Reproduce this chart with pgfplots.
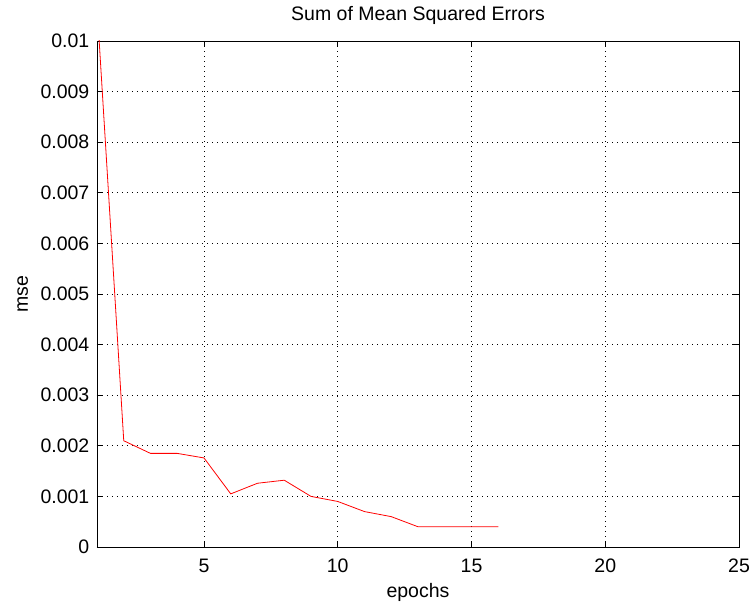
\documentclass[border=0pt]{standalone}
\usepackage{fontspec}
\setmainfont{Liberation Sans}
\usepackage{pgfplots}
\pgfplotsset{compat=1.18}
\begin{document}
\begin{tikzpicture}
\path[use as bounding box] (-97bp,-57bp) rectangle (655bp,547bp);
\begin{axis}[
  at={(0,0)}, anchor=south west,
  scale only axis, width=642bp, height=506bp,
  xmin=1, xmax=25, ymin=0, ymax=0.01,
  xtick={5,10,15,20,25},
  xticklabels={5,10,15,20,25},
  ytick={0,0.001,0.002,0.003,0.004,0.005,0.006,0.007,0.008,0.009,0.01},
  yticklabels={0,0.001,0.002,0.003,0.004,0.005,0.006,0.007,0.008,0.009,0.01},
  scaled y ticks=false,
  /pgf/number format/assume math mode=true,
  font=\fontsize{19.5bp}{23bp}\selectfont,
  ticklabel style={font=\fontsize{19.5bp}{23bp}\selectfont},
  xticklabel style={anchor=base, inner sep=0pt, yshift=-25bp},
  yticklabel style={anchor=east, inner sep=0pt, xshift=-7.5bp},
  tick align=inside,
  major tick length=6bp,
  tick style={black, line width=0.8bp},
  axis line style={black, line width=0.8bp},
  grid=major,
  major grid style={black, line width=0.6bp, dash pattern=on 1bp off 4bp},
  title={Sum of Mean Squared Errors},
  title style={at={(axis description cs:0.5,1)}, anchor=base, yshift=15bp, inner sep=0pt},
  xlabel={epochs},
  xlabel style={at={(axis description cs:0.5,0)}, anchor=base, yshift=-50bp, inner sep=0pt},
  ylabel={mse},
  ylabel style={at={(axis description cs:-0.1075,0.5)}, anchor=base, inner sep=0pt},
]
\addplot[red, line width=0.8bp, mark=none] coordinates {
  (1,0.0107) (2,0.0021) (3,0.00185) (4,0.00185) (5,0.00176) (6,0.00105)
  (7,0.00126) (8,0.00132) (9,0.0010) (10,0.00090) (11,0.00070) (12,0.00060)
  (13,0.00040) (14,0.00040) (15,0.00040) (16,0.00040)
};
\end{axis}
\end{tikzpicture}
\end{document}
